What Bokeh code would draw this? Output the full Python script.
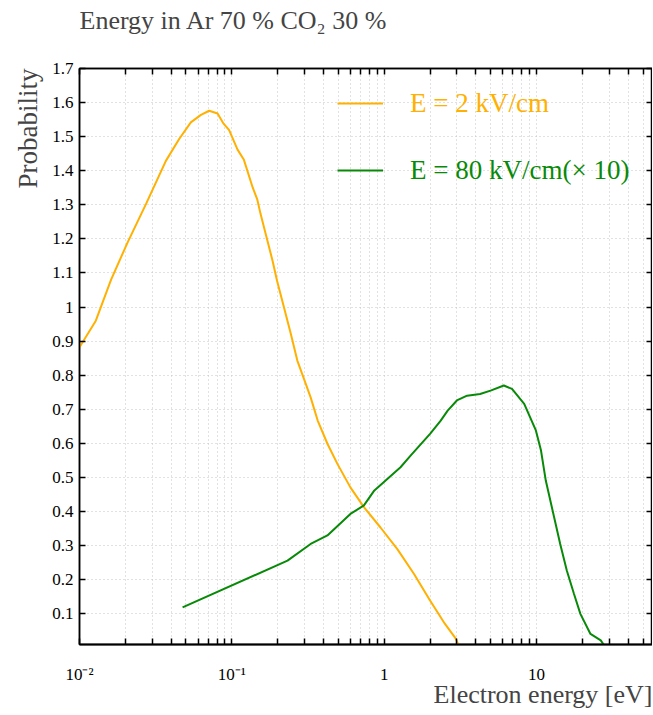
from bokeh.plotting import figure
from bokeh.models import (FixedTicker, CustomJSTickFormatter, NumeralTickFormatter,
                          LinearAxis, LogAxis, Title, Legend, LegendItem, Range1d)
from bokeh.embed import file_html
from bokeh.resources import INLINE

# ---- data ----
energy_2kv = [0.01, 0.0128, 0.0161, 0.0207, 0.0273, 0.0369, 0.0451, 0.0538, 0.0627, 0.0710,
              0.0806, 0.0877, 0.0960, 0.109, 0.120, 0.137, 0.147, 0.154, 0.167, 0.185,
              0.198, 0.220, 0.244, 0.269, 0.297, 0.329, 0.366, 0.424, 0.493, 0.600,
              0.736, 0.943, 1.22, 1.57, 2.0, 2.5, 2.95, 3.1]
prob_2kv = [0.882, 0.960, 1.080, 1.190, 1.302, 1.429, 1.493, 1.542, 1.564, 1.576,
            1.568, 1.540, 1.519, 1.462, 1.432, 1.351, 1.315, 1.275, 1.214, 1.136,
            1.077, 0.999, 0.921, 0.843, 0.790, 0.735, 0.667, 0.599, 0.540, 0.471,
            0.413, 0.354, 0.290, 0.217, 0.139, 0.071, 0.027, 0.005]

energy_80kv = [0.0475, 0.232, 0.329, 0.424, 0.600, 0.736, 0.862, 1.08, 1.28, 1.49,
               2.0, 2.35, 2.61, 3.0, 3.5, 4.26, 4.99, 6.1, 6.9, 8.3,
               9.9, 10.7, 11.5, 12.9, 14.3, 15.8, 17.6, 19.4, 22.6, 26.4, 28.0]
prob_80kv_x10 = [0.119, 0.256, 0.305, 0.330, 0.393, 0.418, 0.462, 0.501, 0.530, 0.564,
                 0.628, 0.667, 0.696, 0.726, 0.740, 0.745, 0.755, 0.770, 0.760, 0.716,
                 0.638, 0.579, 0.491, 0.393, 0.305, 0.227, 0.159, 0.100, 0.041, 0.022, 0.005]

x_tick_values = [0.01, 0.1, 1, 10]
x_tick_labels = ["10\u207b\u00b2", "10\u207b\u00b9", "1", "10"]
y_tick_values = [0.1, 0.2, 0.3, 0.4, 0.5, 0.6, 0.7, 0.8, 0.9, 1.0,
                 1.1, 1.2, 1.3, 1.4, 1.5, 1.6, 1.7]

title_text = "Energy in Ar 70 % CO\u2082 30 %"
legend_labels = ["E = 2 kV/cm", "E = 80 kV/cm(\u00d7 10)"]

FONT = "Liberation Serif"
ORANGE = "#ffb000"
GREEN = "#088a08"
GRID = "#c4c4c4"

p = figure(width=652, height=713, x_axis_type="log", title=None,
           x_range=Range1d(0.01, 57.7), y_range=Range1d(0.01, 1.7),
           output_backend="svg", toolbar_location=None,
           min_border_left=79, min_border_right=0, min_border_top=68, min_border_bottom=69)

p.outline_line_color = "black"
p.outline_line_width = 1.5
p.background_fill_color = "white"
p.border_fill_color = "white"

minor_x = [m * d for d in [0.01, 0.1, 1, 10] for m in range(2, 10)]
xticker = FixedTicker(ticks=x_tick_values, minor_ticks=minor_x)
yticker = FixedTicker(ticks=y_tick_values)

xfmt = CustomJSTickFormatter(args=dict(vals=x_tick_values, labs=x_tick_labels), code="""
for (let i = 0; i < vals.length; i++) {
  if (Math.abs(Math.log10(tick) - Math.log10(vals[i])) < 1e-6) return labs[i];
}
return '';
""")

xa = p.xaxis[0]
xa.ticker = xticker
xa.formatter = xfmt
xa.major_tick_in = 6
xa.major_tick_out = 0
xa.minor_tick_in = 6
xa.minor_tick_out = 0
xa.axis_line_width = 2
xa.major_tick_line_width = 1.5
xa.minor_tick_line_width = 1.5
xa.major_label_standoff = 20
xa.major_label_text_font = FONT
xa.major_label_text_font_size = "17px"
xa.major_label_text_color = "black"

ya = p.yaxis[0]
ya.ticker = yticker
ya.formatter = NumeralTickFormatter(format="0.[0]")
ya.major_tick_in = 6
ya.major_tick_out = 0
ya.minor_tick_line_color = None
ya.axis_line_width = 1.5
ya.major_tick_line_width = 1.5
ya.major_label_standoff = 6
ya.major_label_text_font = FONT
ya.major_label_text_font_size = "17px"
ya.major_label_text_color = "black"

ra = LinearAxis(ticker=yticker, major_label_text_font_size="1px", major_label_text_color=None,
                major_label_standoff=0,
                major_tick_in=6, major_tick_out=0, minor_tick_line_color=None,
                axis_line_width=1.5, major_tick_line_width=1.5)
p.add_layout(ra, "right")
ta = LogAxis(ticker=xticker, major_label_text_font_size="1px", major_label_text_color=None,
             major_label_standoff=0,
             major_tick_in=6, major_tick_out=0, minor_tick_in=6, minor_tick_out=0,
             axis_line_width=1.5, major_tick_line_width=1.5, minor_tick_line_width=1.5)
p.add_layout(ta, "above")

# spacer between frame and the title, then the title itself
p.add_layout(Title(text=" ", text_font=FONT, text_font_size="25px", standoff=5), "above")
p.add_layout(Title(text=title_text, align="left", text_font=FONT, text_font_size="26px",
                   text_font_style="normal", standoff=0), "above")

p.xgrid.ticker = xticker
p.xgrid.grid_line_color = GRID
p.xgrid.grid_line_dash = "1 3"
p.xgrid.minor_grid_line_color = GRID
p.xgrid.minor_grid_line_dash = "1 3"
p.ygrid.ticker = yticker
p.ygrid.grid_line_color = GRID
p.ygrid.grid_line_dash = "1 3"

r1 = p.line(energy_2kv, prob_2kv, line_color=ORANGE, line_width=2)
r2 = p.line(energy_80kv, prob_80kv_x10, line_color=GREEN, line_width=2)

for lab, rend, col, loc in [(legend_labels[0], r1, ORANGE, (258, 525)),
                            (legend_labels[1], r2, GREEN, (258, 458))]:
    leg = Legend(items=[LegendItem(label=lab, renderers=[rend])], location=loc,
                 label_text_color=col, label_text_font=FONT, label_text_font_size="27px",
                 glyph_width=46, glyph_height=32, label_height=32, label_standoff=27,
                 padding=0, margin=0, spacing=0, border_line_alpha=0,
                 background_fill_alpha=0)
    p.add_layout(leg)

p.add_layout(Title(text="Probability", align="right", text_font=FONT, standoff=14,
                   text_font_size="27px", text_font_style="normal"), "left")
xlab = Title(text="Electron energy [eV]", align="right", text_font=FONT,
             text_font_size="26px", text_font_style="normal")
try:
    xlab.standoff = -18
except Exception:
    xlab.standoff = 0
p.add_layout(xlab, "below")

open("out.html", "w").write(file_html(p, INLINE))
